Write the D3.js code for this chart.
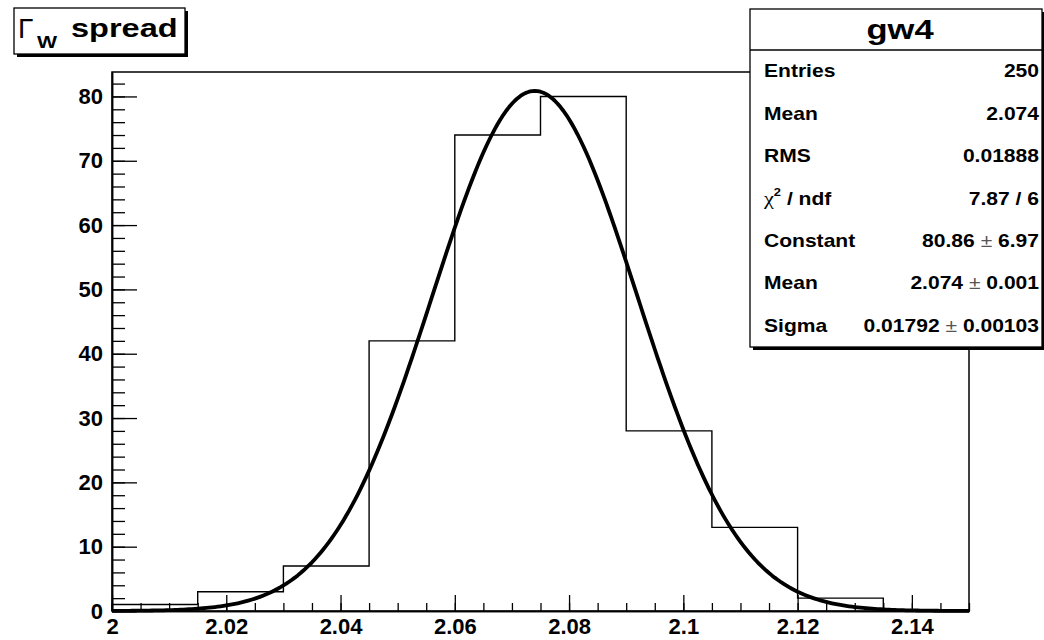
<!DOCTYPE html>
<html>
<head>
<meta charset="utf-8">
<script src="https://cdn.jsdelivr.net/npm/d3@7"></script>
<style>
  body { margin: 0; background: #fff; }
  text { font-family: "Liberation Sans", Arial, sans-serif; fill: #000; }
</style>
</head>
<body>
<svg id="chart" width="1044" height="640"></svg>
<script>
// histogram bins (lower edges), bin width and contents
const binEdges = [2.000, 2.015, 2.030, 2.045, 2.060, 2.075, 2.090, 2.105, 2.120, 2.135];
const binWidth = 0.015;
const binCounts = [1, 3, 7, 42, 74, 80, 28, 13, 2, 0];

// gaussian fit parameters: constant, mean, sigma
const fitParams = [80.86, 2.074, 0.01792];

const xTicks = [2.00, 2.02, 2.04, 2.06, 2.08, 2.10, 2.12, 2.14];
const yTicks = [0, 10, 20, 30, 40, 50, 60, 70, 80];

const statsTitle = "gw4";
const statsLabels = ["Entries", "Mean", "RMS", "chi2", "Constant", "Mean", "Sigma"];
const statsValues = [["250"], ["2.074"], ["0.01888"], ["7.87 / 6"],
    ["80.86", "6.97"], ["2.074", "0.001"], ["0.01792", "0.00103"]];

let svg = d3.select("#chart");
svg.append("rect").attr("width", 1044).attr("height", 640).attr("fill", "#fff");

let margin = {top: 72, right: 75, bottom: 29, left: 112},
    x = d3.scaleLinear().domain([2.0, 2.15]).range([margin.left, 1044 - margin.right]),
    y = d3.scaleLinear().domain([0, 83.8]).range([640 - margin.bottom, margin.top]);

// *** Frame
svg.append("rect")
    .attr("x", x(2.0)).attr("y", y(83.8))
    .attr("width", x(2.15) - x(2.0)).attr("height", y(0) - y(83.8))
    .attr("fill", "none").attr("stroke", "#000").attr("stroke-width", 1.5);

// *** Axes (ticks pointing inward, ROOT style)
let fmt = d => (+d.toFixed(3)).toString();
let xMajor = svg.append("g").attr("class", "axis axis--x")
    .attr("transform", "translate(0," + y(0) + ")")
    .call(d3.axisBottom(x).tickValues(xTicks).tickFormat(fmt).tickSizeInner(-16).tickSizeOuter(0).tickPadding(7));
svg.append("g").attr("class", "axis axis--x-minor")
    .attr("transform", "translate(0," + y(0) + ")")
    .call(d3.axisBottom(x).tickValues(d3.range(0, 31).map(i => 2 + i * 0.005)).tickFormat("").tickSizeInner(-8).tickSizeOuter(0));
let yMajor = svg.append("g").attr("class", "axis axis--y")
    .attr("transform", "translate(" + x(2.0) + ",0)")
    .call(d3.axisLeft(y).tickValues(yTicks).tickSizeInner(-25).tickSizeOuter(0).tickPadding(9));
svg.append("g").attr("class", "axis axis--y-minor")
    .attr("transform", "translate(" + x(2.0) + ",0)")
    .call(d3.axisLeft(y).tickValues(d3.range(0, 84, 2)).tickFormat("").tickSizeInner(-13).tickSizeOuter(0));

svg.selectAll(".axis path").attr("stroke", "#000").attr("stroke-width", 1.5);
svg.selectAll(".axis line").attr("stroke", "#000").attr("stroke-width", 1.3);
svg.selectAll(".axis text")
    .attr("font-family", "Liberation Sans, Arial, sans-serif")
    .attr("font-size", 22).attr("font-weight", "bold").attr("fill", "#000");
xMajor.selectAll("text").attr("dy", "0.72em");

// *** Histogram outline
let histPts = [[binEdges[0], 0]];
binEdges.forEach((e, i) => {
    histPts.push([e, binCounts[i]]);
    histPts.push([e + binWidth, binCounts[i]]);
});
histPts.push([binEdges[binEdges.length - 1] + binWidth, 0]);
svg.append("path")
    .datum(histPts)
    .attr("fill", "none").attr("stroke", "#000").attr("stroke-width", 1.4)
    .attr("d", d3.line().x(d => x(d[0])).y(d => y(d[1])));

// *** Fit function
let gaus = v => fitParams[0] * Math.exp(-0.5 * Math.pow((v - fitParams[1]) / fitParams[2], 2));
let fitPts = d3.range(0, 301).map(i => 2.0 + i * 0.0005);
svg.append("path")
    .datum(fitPts)
    .attr("fill", "none").attr("stroke", "#000").attr("stroke-width", 3.8)
    .attr("stroke-linejoin", "round")
    .attr("d", d3.line().x(d => x(d)).y(d => y(gaus(d))));

// *** Title box
svg.append("rect").attr("x", 17).attr("y", 11).attr("width", 171).attr("height", 46).attr("fill", "#000");
svg.append("rect").attr("x", 14).attr("y", 8).attr("width", 171).attr("height", 46)
    .attr("fill", "#fff").attr("stroke", "#000").attr("stroke-width", 1.3);
svg.append("text").attr("x", 18).attr("y", 38)
    .attr("font-family", "Liberation Serif, Times New Roman, serif").attr("font-size", 28)
    .text("\u0393");
svg.append("g").attr("transform", "translate(37,48) scale(1.25,1)")
    .append("text").attr("font-size", 17).attr("font-weight", "bold").text("W");
svg.append("g").attr("transform", "translate(71,37) scale(1.25,1)")
    .append("text").attr("font-size", 26).attr("font-weight", "bold").text("spread");

// *** Stats box
let sb = {x: 750, y: 9, w: 292, h: 338};
svg.append("rect").attr("x", sb.x + 3).attr("y", sb.y + 3).attr("width", sb.w).attr("height", sb.h).attr("fill", "#000");
svg.append("rect").attr("x", sb.x).attr("y", sb.y).attr("width", sb.w).attr("height", sb.h)
    .attr("fill", "#fff").attr("stroke", "#000").attr("stroke-width", 1.3);
svg.append("line").attr("x1", sb.x).attr("x2", sb.x + sb.w).attr("y1", 50).attr("y2", 50)
    .attr("stroke", "#000").attr("stroke-width", 1.3);
svg.append("g").attr("transform", "translate(" + (sb.x + sb.w / 2 + 4) + ",39) scale(1.28,1)")
    .append("text").attr("text-anchor", "middle").attr("font-size", 27).attr("font-weight", "bold")
    .text(statsTitle);

let rowH = (sb.y + sb.h - 50) / statsLabels.length;
statsLabels.forEach((lab, i) => {
    let by = 50 + rowH * (i + 0.5) + 6;
    let lg = svg.append("g").attr("transform", "translate(764," + by + ") scale(1.17,1)");
    if (lab === "chi2") {
        let t = lg.append("text").attr("font-size", 18).attr("font-weight", "bold");
        t.append("tspan").attr("font-family", "Liberation Serif, serif").attr("font-weight", "normal")
            .attr("font-size", 19).text("\u03C7");
        t.append("tspan").attr("font-size", 11).attr("dy", -9).text("2");
        t.append("tspan").attr("dy", 9).text(" / ndf");
    } else {
        lg.append("text").attr("font-size", 18).attr("font-weight", "bold").text(lab);
    }
    let vg = svg.append("g").attr("transform", "translate(1039," + by + ") scale(1.17,1)");
    let vt = vg.append("text").attr("text-anchor", "end").attr("font-size", 18).attr("font-weight", "bold");
    let v = statsValues[i];
    vt.append("tspan").text(v[0]);
    if (v.length > 1) {
        vt.append("tspan").attr("font-weight", "normal").attr("fill", "#555").text(" \u00B1 ");
        vt.append("tspan").text(v[1]);
    }
});
</script>
</body>
</html>
